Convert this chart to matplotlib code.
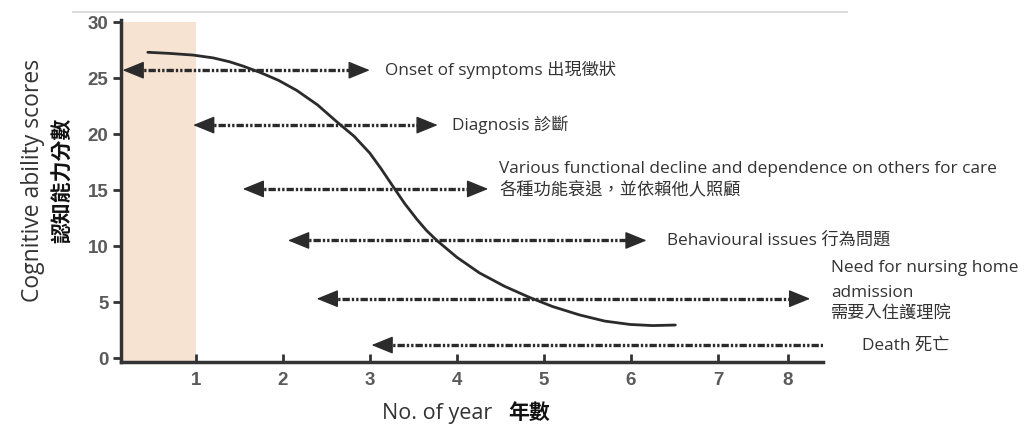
import matplotlib.pyplot as plt
from matplotlib.lines import Line2D

plt.rcParams['font.family'] = ['Open Sans', 'Noto Sans CJK TC', 'DejaVu Sans']

# cognitive score curve
year = [0.45, 0.7, 0.97, 1.2, 1.39, 1.55, 1.74, 1.95, 2.16, 2.4, 2.62, 2.82, 3.0, 3.13,
        3.26, 3.4, 3.54, 3.65, 3.77, 4.0, 4.26, 4.55, 4.84, 5.1, 5.41, 5.7, 5.99, 6.25, 6.51]
score = [27.3, 27.2, 27.05, 26.8, 26.45, 26.05, 25.5, 24.8, 23.9, 22.6, 21.1, 19.8, 18.3, 16.9,
         15.4, 13.8, 12.4, 11.4, 10.5, 9.0, 7.6, 6.4, 5.4, 4.6, 3.85, 3.3, 3.0, 2.9, 2.95]

# stage arrows: start year, end year, level
arrow_start = [0.16, 0.97, 1.54, 2.06, 2.39, 3.02]
arrow_end = [3.0, 3.78, 4.36, 6.18, 8.06, 8.32]
arrow_level = [25.7, 20.8, 15.1, 10.5, 5.3, 1.16]

# stage labels: text, x, y
stage_labels = ["Onset of symptoms 出現徵狀",
                "Diagnosis 診斷",
                "Various functional decline and dependence on others for care",
                "各種功能衰退，並依賴他人照顧",
                "Behavioural issues 行為問題",
                "Need for nursing home",
                "admission",
                "需要入住護理院",
                "Death 死亡"]
label_x = [3.17, 3.95, 4.49, 4.49, 6.41, 8.3, 8.3, 8.3, 8.66]
label_y = [25.7, 20.8, 16.9, 15.0, 10.5, 8.0, 5.8, 3.85, 1.16]

xtick_pos = [1, 2, 3, 4, 5, 6, 7, 7.8]
xtick_labels = ['1', '2', '3', '4', '5', '6', '7', '8']
ytick_pos = [0, 5, 10, 15, 20, 25, 30]

dark = '#2b2b2b'

fig = plt.figure(figsize=(10.33, 4.26), dpi=100)
ax = fig.add_axes([0.117, 0.150, 0.680, 0.803])
ax.set_xlim(0.14, 8.21)
ax.set_ylim(-0.36, 30.18)

# early stage shading
ax.fill_between([0.14, 1.0], -0.36, 30, color='#f6e3d2', lw=0, zorder=0)

ax.plot(year, score, color=dark, lw=2, zorder=3, solid_capstyle='round',
        solid_joinstyle='round')

for x0, x1, y in zip(arrow_start, arrow_end, arrow_level):
    ax.plot([x0 + 0.08, x1 - 0.08], [y, y], color=dark, lw=2.4,
            dashes=(2.2, 0.6, 0.7, 0.6, 0.7, 0.6), zorder=2, solid_capstyle='butt')
    for tip, back in ((x0, x0 + 0.08), (x1, x1 - 0.08)):
        ax.annotate('', xy=(tip, y), xytext=(back, y),
                    arrowprops=dict(arrowstyle='-|>,head_length=1.35,head_width=0.55',
                                    color=dark, lw=1, shrinkA=0, shrinkB=0),
                    zorder=4)

for t, x, y in zip(stage_labels, label_x, label_y):
    ax.text(x, y, t, fontsize=12.4, color='#333333', va='center', ha='left')

for s in ['top', 'right']:
    ax.spines[s].set_visible(False)
for s in ['left', 'bottom']:
    ax.spines[s].set_linewidth(2.5)
    ax.spines[s].set_color('#333333')

ax.set_yticks(ytick_pos)
ax.set_xticks(xtick_pos)
ax.set_xticklabels(xtick_labels)
ax.tick_params(axis='y', direction='out', length=6, width=2, color='#333333',
               pad=3, labelsize=13.5, labelcolor='#5a5a5a')
ax.tick_params(axis='x', direction='in', length=6, width=2, color='#333333',
               pad=7, labelsize=13.5, labelcolor='#5a5a5a')
for lab in ax.get_xticklabels() + ax.get_yticklabels():
    lab.set_family('Liberation Sans')
    lab.set_fontweight('bold')

fig.text(0.032, 0.577, 'Cognitive ability scores', rotation=90, fontsize=16.5,
         color='#333333', ha='center', va='center')
fig.text(0.062, 0.577, '認知能力分數', rotation=90, fontsize=15, fontweight='bold',
         color='#111111', ha='center', va='center')
fig.text(0.477, 0.030, 'No. of year', fontsize=15.5, color='#333333', ha='right', va='center')
fig.text(0.492, 0.030, '年數', fontsize=15, fontweight='bold', color='#111111',
         ha='left', va='center')

fig.add_artist(Line2D([0.071, 0.82], [0.972, 0.972], color='#dcdcdc', lw=1.5))

fig.savefig('out.png', dpi=100)
